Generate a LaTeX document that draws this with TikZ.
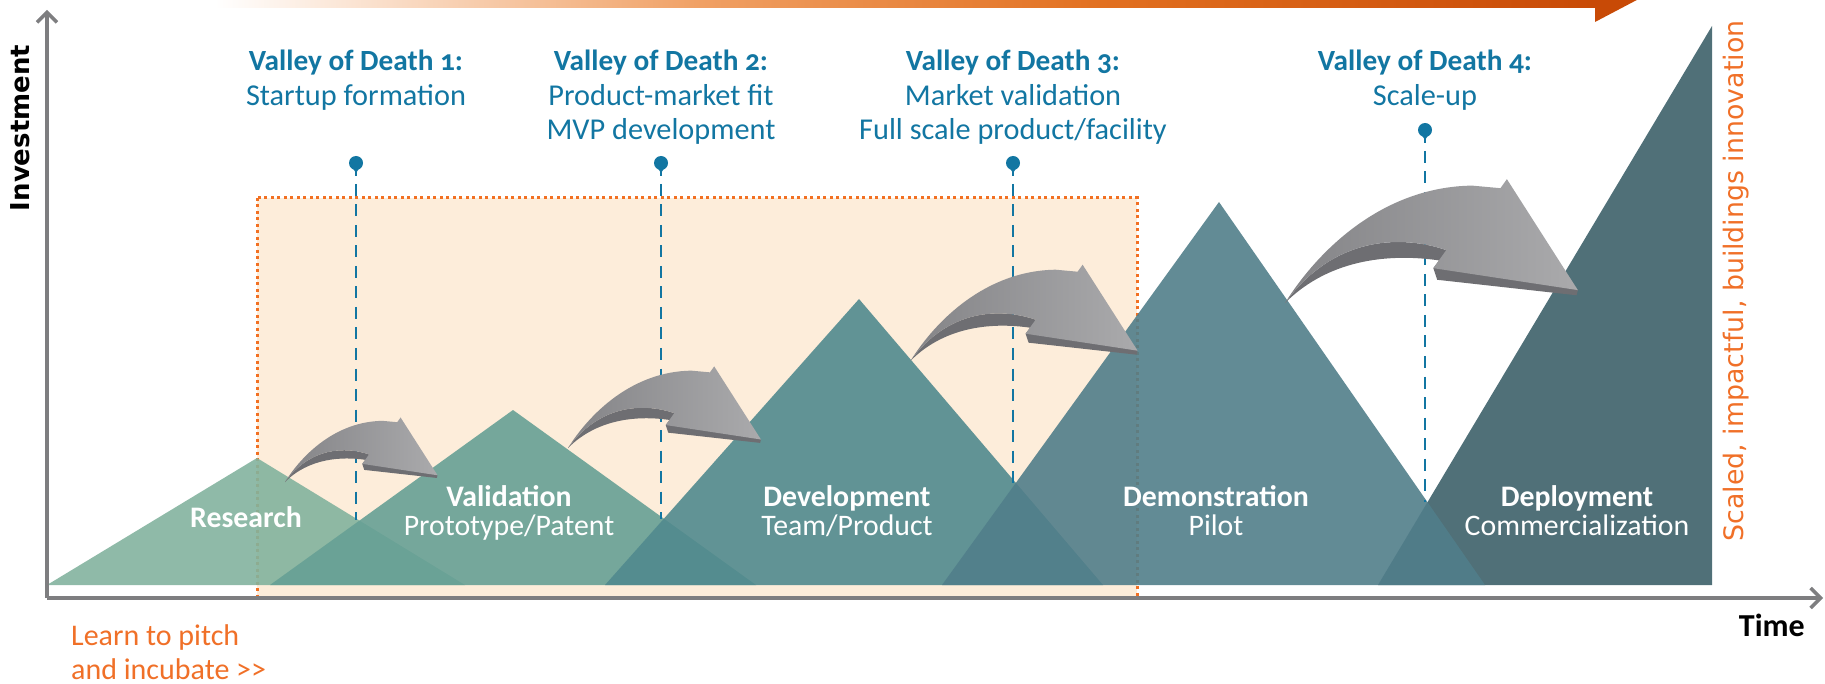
\documentclass[tikz,border=0pt]{standalone}
\usepackage{fontspec}
\setmainfont{Carlito}
\newfontfamily\vodfont[Numbers=OldStyle]{Carlito}
\newfontfamily\dejavu{DejaVu Sans}
\usetikzlibrary{arrows.meta}
\definecolor{vblue}{RGB}{18,118,162}
\definecolor{otext}{RGB}{240,112,40}
\definecolor{peach}{RGB}{253,237,218}
\definecolor{boxor}{RGB}{242,112,34}
\definecolor{axgray}{RGB}{126,126,128}
\definecolor{cRes}{RGB}{131,179,158}
\definecolor{cVal}{RGB}{103,160,149}
\definecolor{cDev}{RGB}{81,138,142}
\definecolor{cDem}{RGB}{81,126,138}
\definecolor{cDep}{RGB}{61,96,105}
\definecolor{arL}{RGB}{132,132,135}
\definecolor{arR}{RGB}{170,170,172}
\definecolor{arS}{RGB}{110,110,114}
\definecolor{bn1}{RGB}{240,160,100}
\definecolor{bn2}{RGB}{226,112,32}
\definecolor{bn3}{RGB}{200,74,6}
\tikzset{
  tri/.style={fill opacity=0.9},
  vodhead/.style={font=\vodfont\bfseries\fontsize{29.3}{34}\selectfont, text=vblue, anchor=base, inner sep=0pt},
  vodsub/.style={font=\fontsize{30.3}{34}\selectfont, text=vblue, anchor=base, inner sep=0pt},
  trihead/.style={font=\bfseries\fontsize{29.8}{34}\selectfont, text=white, anchor=base, inner sep=0pt},
  trisub/.style={font=\fontsize{29.8}{34}\selectfont, text=white, anchor=base, inner sep=0pt},
  pitch/.style={font=\fontsize{30}{34}\selectfont, text=otext, anchor=base west, inner sep=0pt},
  axisline/.style={draw=axgray, line width=3.5pt, -{Straight Barb[length=10pt,width=20pt]}},
  pindot/.style={fill=vblue},
  pinline/.style={draw=vblue, line width=2.4pt},
  pindash/.style={draw=vblue, line width=2.4pt, dash pattern=on 12pt off 8.5pt},
  bigarrow/.pic={
    \fill[arS] (0,0) .. controls (38,-52) and (90,-53) .. (125,-41) -- (227,-10) -- (226,-6) -- (118,-18) -- (115,-27) -- (119.5,-33) .. controls (85,-38) and (36,-36) .. (0,0) -- cycle;
    \shade[left color=arL, right color=arR] (0,0) .. controls (25,-40) and (75,-90) .. (145,-91) -- (167,-89) -- (172,-96) -- (227,-10) -- (115,-27) -- (125,-41) .. controls (90,-53) and (38,-52) .. (0,0) -- cycle;
  }
}
\begin{document}
\begin{tikzpicture}[x=1pt,y=-1pt]
\useasboundingbox (0,0) rectangle (1825,684);
\clip (0,0) rectangle (1825,684);

% top banner
\shade[left color=white, right color=bn1] (215,-5) rectangle (701,7.5);
\shade[left color=bn1, right color=bn2] (700,-5) rectangle (1101,7.5);
\shade[left color=bn2, right color=bn3] (1100,-5) rectangle (1596,7.5);
\fill[bn3] (1595,22) -- (1690,-28) -- (1595,-80) -- cycle;

% incubation box
\fill[peach] (257,198) rectangle (1137,597);
\draw[boxor, line width=3pt, dash pattern=on 3pt off 3.5pt] (257,198) rectangle (1137,597);

% mountains
\fill[cRes, tri] (47,585) -- (257,458) -- (465,585) -- cycle;
\fill[cVal, tri] (270,585) -- (513,410) -- (756,585) -- cycle;
\fill[cDev, tri] (605,585) -- (859,299) -- (1103,585) -- cycle;
\fill[cDep, tri] (1378,585) -- (1712,26) -- (1712,585) -- cycle;
\fill[cDem, tri] (942,585) -- (1219,202) -- (1485,585) -- cycle;

% valley markers
\foreach \x/\py/\vy in {356/163/520, 661/163/519, 1013/163/483, 1425/130/502} {
  \fill[pindot] (\x,\py) circle[radius=7pt];
  \fill[pindot] (\x-4,\py+4) -- (\x,\py+10) -- (\x+4,\py+4) -- cycle;
  \draw[pinline] (\x,\py) -- (\x,\py+13);
  \draw[pindash] (\x,\py+21) -- (\x,\vy);
}

% curved arrows
\pic[scale=0.672] at (285,482) {bigarrow};
\pic[scale=0.85] at (568,448) {bigarrow};
\pic[scale=1.0] at (910.6,360.7) {bigarrow};
\pic[scale=1.29] at (1285,303) {bigarrow};

% valley texts
\node[vodhead] (v1h) at (356,71) {Valley of Death 1:};
\node[vodsub] (v1a) at (356,106) {Startup formation};
\node[vodhead] (v2h) at (661,71) {Valley of Death 2:};
\node[vodsub] (v2a) at (661,106) {Product-market fit};
\node[vodsub] (v2b) at (661,140) {MVP development};
\node[vodhead] (v3h) at (1013,71) {Valley of Death 3:};
\node[vodsub] (v3a) at (1013,106) {Market validation};
\node[vodsub] (v3b) at (1013,140) {Full scale product/facility};
\node[vodhead] (v4h) at (1425,71) {Valley of Death 4:};
\node[vodsub] (v4a) at (1425,106) {Scale-up};

% stage labels
\node[trihead] (res) at (246,527) {Research};
\node[trihead] (val) at (509,506) {Validation};
\node[trisub] (valb) at (509,535) {Prototype/Patent};
\node[trihead] (dev) at (847,506) {Development};
\node[trisub] (devb) at (847,535) {Team/Product};
\node[trihead] (dem) at (1216,506) {Demonstration};
\node[trisub] (demb) at (1216,535) {Pilot};
\node[trihead] (dep) at (1577,506) {Deployment};
\node[trisub] (depb) at (1577,535) {Commercialization};

% axes
\coordinate (O) at (47,598);
\coordinate (ytop) at (47,10);
\coordinate (xend) at (1823,598);
\draw[axisline] (O) -- (ytop);
\draw[axisline] (O) -- (xend);

\node[rotate=90, font=\dejavu\bfseries\fontsize{26}{30}\selectfont, inner sep=0pt] (inv) at (20,128) {Investment};
\node[anchor=base east, font=\bfseries\fontsize{32}{36}\selectfont, inner sep=0pt] (time) at (1805,636) {Time};
\node[rotate=90, font=\dejavu\fontsize{26.8}{30}\selectfont, text=otext, inner sep=0pt] (scaled) at (1736,281) {Scaled, impactful, buildings innovation};

\node[pitch] (pitch1) at (71,645) {Learn to pitch};
\node[pitch] (pitch2) at (71,679) {and incubate >{}>};
\end{tikzpicture}
\end{document}
